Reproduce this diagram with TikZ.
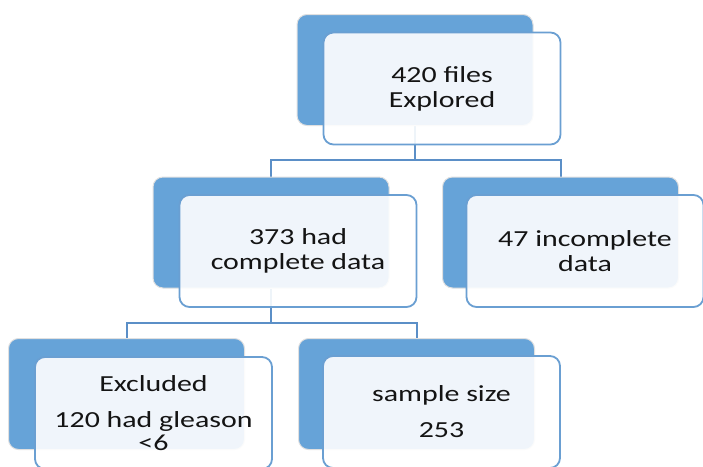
\documentclass[tikz,border=0pt]{standalone}
\usepackage{fontspec}
\newfontfamily\lbl[FakeStretch=1.3]{Carlito}
\usetikzlibrary{backgrounds}
\definecolor{backblue}{HTML}{66A3D8}
\definecolor{edgeblue}{HTML}{6A9FD2}
\definecolor{linkblue}{HTML}{5B8FC7}
\definecolor{txt}{HTML}{141414}
\begin{document}
\begin{tikzpicture}[x=1pt,y=-1pt,
  backbox/.style={rectangle, rounded corners=10pt, fill=backblue, draw=black!12, line width=1pt,
    minimum width=236pt, minimum height=111pt, inner sep=0pt},
  frontbox/.style={rectangle, rounded corners=10pt, fill=white, fill opacity=0.9, text opacity=1,
    draw=edgeblue, draw opacity=1, line width=1.8pt,
    minimum width=237pt, minimum height=112pt, inner sep=0pt, align=center,
    font=\lbl\fontsize{23}{25}\selectfont, text=txt},
  conn/.style={draw=linkblue, line width=2pt}]
\useasboundingbox (0,0) rectangle (703,466);

% top
\node[backbox] (topback) at (415,70) {};
\node[frontbox] (topfront) at (442,88.5) {420 files\\Explored};
% middle
\node[backbox] (mlback) at (271,232.5) {};
\node[frontbox] (mlfront) at (298,251) {373 had\\complete data};
\node[backbox] (mrback) at (560.5,232.5) {};
\node[frontbox] (mrfront) at (585,251) {47 incomplete\\data};
% bottom
\node[backbox] (blback) at (126.5,394) {};
\node[frontbox] (blfront) at (153.5,413) {Excluded\\[11pt]120 had gleason\\[-2pt]\textless 6};
\node[backbox] (brback) at (416.5,394) {};
\node[frontbox] (brfront) at (441.5,412) {sample size\\[11pt]253};

\coordinate (j1) at (415,160);
\coordinate (j2) at (271,323);
\begin{scope}[on background layer]
\draw[conn] (topback.south) -- (j1);
\draw[conn] (mlback.north) |- (j1) -| (mrback.north);
\draw[conn] (mlback.south) -- (j2);
\draw[conn] (blback.north) |- (j2) -| (brback.north);
\end{scope}
\end{tikzpicture}
\end{document}
